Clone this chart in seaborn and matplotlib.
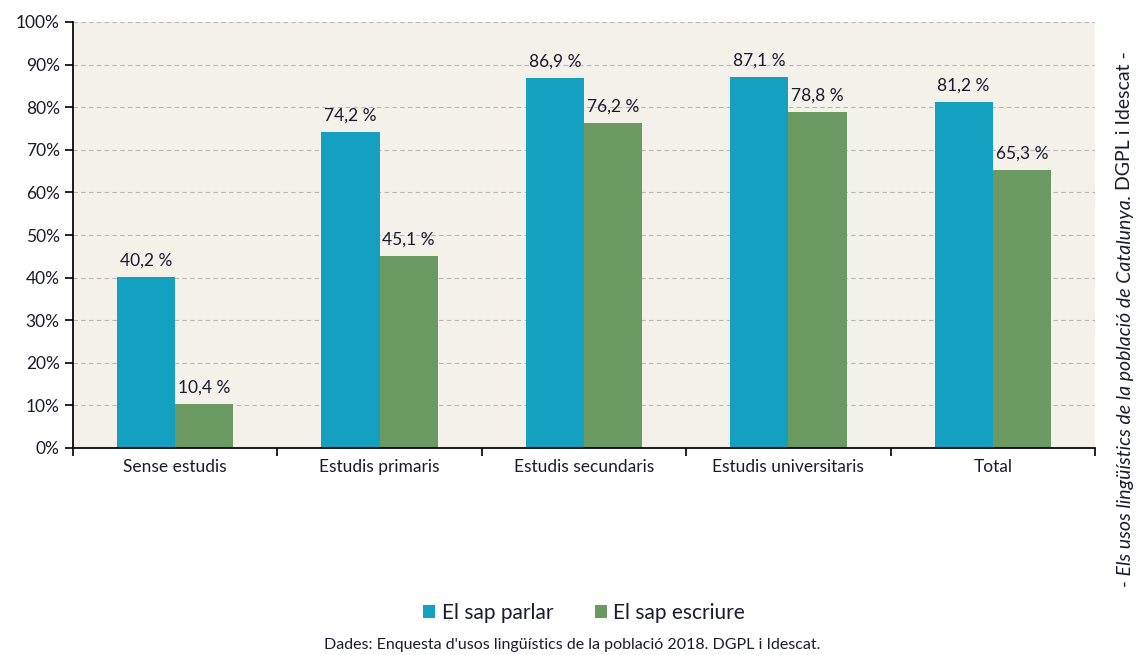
import pandas as pd
import seaborn as sns
import matplotlib.pyplot as plt
from matplotlib.ticker import MultipleLocator, FuncFormatter

categories = ['Sense estudis', 'Estudis primaris', 'Estudis secundaris',
              'Estudis universitaris', 'Total']
parlar = [40.2, 74.2, 86.9, 87.1, 81.2]
escriure = [10.4, 45.1, 76.2, 78.8, 65.3]
series = ['El sap parlar', 'El sap escriure']

df = pd.DataFrame({
    'categoria': categories * 2,
    'serie': [series[0]] * 5 + [series[1]] * 5,
    'valor': parlar + escriure,
})

sns.set_theme(style='white')
plt.rcParams['font.family'] = ['Lato', 'DejaVu Sans']
text_col = '#1b1b2f'

fig = plt.figure(figsize=(11.44, 6.55), dpi=100)
ax = fig.add_axes([73 / 1144, 1 - 448 / 655, 1022 / 1144, 426 / 655])
ax.set_facecolor('#f4f0ea')

sns.barplot(data=df, x='categoria', y='valor', hue='serie', ax=ax,
            palette=['#14a0c0', '#6a9a62'], width=0.57, gap=0, saturation=1,
            linewidth=0)

for cont in ax.containers:
    ax.bar_label(cont, labels=[f'{v:.1f} %'.replace('.', ',') for v in cont.datavalues],
                 padding=6, fontsize=12.5, color=text_col)

ax.set_ylim(0, 100)
ax.set_xlim(-0.5, 4.5)
ax.yaxis.set_major_locator(MultipleLocator(10))
ax.yaxis.set_major_formatter(FuncFormatter(lambda v, p: f'{v:.0f}%'))
ax.grid(axis='y', color='#b8b8b8', linestyle=(0, (4, 3)), linewidth=0.8)
ax.set_axisbelow(True)

for s in ['top', 'right']:
    ax.spines[s].set_visible(False)
ax.spines['left'].set_color('black')
ax.spines['bottom'].set_color('black')
ax.tick_params(axis='y', length=6, width=1.2, color='black', labelsize=12.5, labelcolor=text_col, left=True)
ax.set_xticks([i + 0.5 for i in range(-1, 5)], minor=True)
ax.tick_params(axis='x', which='minor', length=6, width=1.2, color='black', bottom=True)
ax.tick_params(axis='x', which='major', length=0, labelsize=12.5, labelcolor=text_col, pad=8)
ax.set_xlabel('')
ax.set_ylabel('')

ax.legend(loc='upper center', bbox_to_anchor=(0.5, -0.32), ncol=2, frameon=False,
          fontsize=15, handlelength=0.6, handleheight=0.6, handletextpad=0.3,
          columnspacing=2.0, labelcolor=text_col)

fig.text(0.5, 1 - 645 / 655, "Dades: Enquesta d'usos lingüístics de la població 2018. DGPL i Idescat.",
         ha='center', va='center', fontsize=11.5, color=text_col)

fig.text(1125 / 1144, 1 - 195 / 655, '- Els usos lingüístics de la població de Catalunya.',
         rotation=90, ha='center', va='top', fontsize=14, style='italic', color=text_col)
fig.text(1125 / 1144, 1 - 195 / 655, ' DGPL i Idescat -',
         rotation=90, ha='center', va='bottom', fontsize=14, color=text_col)

fig.savefig('out.png', dpi=100)
